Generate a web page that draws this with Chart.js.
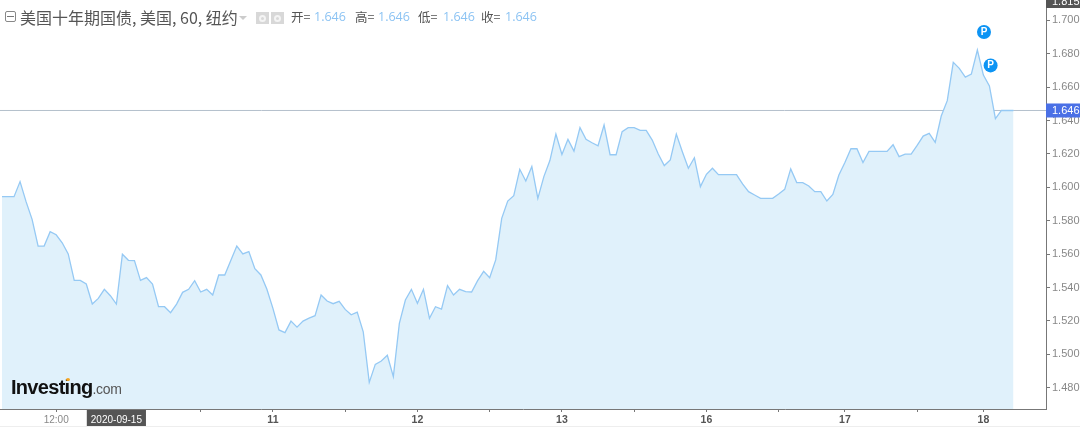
<!DOCTYPE html>
<html lang="zh">
<head>
<meta charset="utf-8">
<title>美国十年期国债</title>
<script src="https://cdn.jsdelivr.net/npm/chart.js@4/dist/chart.umd.min.js"></script>
<style>
  html, body { margin: 0; padding: 0; background: #fff; }
  body { width: 1080px; height: 427px; position: relative; overflow: hidden; font-family: "Liberation Sans", sans-serif; }
  canvas { position: absolute; left: 0; top: 0; }
  .hd { position: absolute; top: 8px; font: 14px/18px "Noto Sans CJK SC", sans-serif; color: #555; white-space: nowrap; }
  .hd.title { font-size: 16px; }
  .hd.ohlc { font-size: 12.5px; }
  .hd.num { font: 12.5px/18px "Open Sans", sans-serif; color: #8cc3f3; }
  .collapse { position: absolute; left: 5px; top: 11px; width: 9px; height: 9px; border: 1px solid #888; border-radius: 2px; }
  .collapse i { position: absolute; left: 1px; right: 1px; top: 4px; height: 1px; background: #777; }
  .caret { position: absolute; left: 239px; top: 16px; width: 0; height: 0; border: 4px solid transparent; border-top: 4px solid #ccc; }
  .icon { position: absolute; top: 12px; width: 13px; height: 12px; background: #d8d8d8; }
  .icon i { position: absolute; left: 3px; top: 2.5px; width: 3px; height: 3px; border: 2px solid #f4f4f4; border-radius: 50%; }
  .logo { position: absolute; left: 11px; top: 376px; color: #111; white-space: nowrap; }
  .logo b { font: bold 20px/22px "Liberation Sans", sans-serif; letter-spacing: -0.7px; }
  .logo span { font: 14px/22px "Liberation Sans", sans-serif; color: #555; letter-spacing: -0.3px; }
  .logo i { position: absolute; left: 55px; top: 2px; width: 4px; height: 3px; border-radius: 50%; background: #f5a623; }
  .rule { position: absolute; left: 0; right: 0; top: 426px; height: 1px; background: #eee; }
</style>
</head>
<body>
<canvas id="chart" width="1080" height="427"></canvas>
<div class="rule"></div>
<div class="collapse"><i></i></div>
<div class="hd title" style="left:20px">美国十年期国债, 美国, 60, 纽约</div>
<div class="caret"></div>
<div class="icon" style="left:256px"><i></i></div>
<div class="icon" style="left:271px"><i></i></div>
<div class="hd ohlc" style="left:291px">开=</div><div class="hd num" style="left:314px">1.646</div>
<div class="hd ohlc" style="left:355px">高=</div><div class="hd num" style="left:378px">1.646</div>
<div class="hd ohlc" style="left:418px">低=</div><div class="hd num" style="left:443px">1.646</div>
<div class="hd ohlc" style="left:481px">收=</div><div class="hd num" style="left:505px">1.646</div>
<div class="logo"><b>Investing</b><span>.com</span><i></i></div>
<script>
// hourly closes, one per bar
const yieldValues = [
  1.5944, 1.5944, 1.5944, 1.6034, 1.5914, 1.5808, 1.5648, 1.5648, 1.5734, 1.5716,
  1.5668, 1.5601, 1.5443, 1.5443, 1.5421, 1.5301, 1.5335, 1.5389, 1.5351, 1.5301,
  1.5599, 1.5563, 1.5561, 1.5443, 1.5459, 1.5421, 1.5285, 1.5285, 1.5249, 1.5301,
  1.5371, 1.5389, 1.5441, 1.5373, 1.5389, 1.5355, 1.5475, 1.5475, 1.5561, 1.5648,
  1.5601, 1.5615, 1.5513, 1.5475, 1.5389, 1.5275, 1.5146, 1.5130, 1.5199, 1.5163,
  1.5199, 1.5217, 1.5231, 1.5355, 1.5319, 1.5303, 1.5317, 1.5269, 1.5237, 1.5253,
  1.5135, 1.4832, 1.4940, 1.4960, 1.4994, 1.4866, 1.5185, 1.5325, 1.5389, 1.5305,
  1.5389, 1.5215, 1.5285, 1.5271, 1.5411, 1.5355, 1.5389, 1.5375, 1.5373, 1.5441,
  1.5497, 1.5459, 1.5565, 1.5814, 1.5918, 1.5950, 1.6108, 1.6038, 1.6124, 1.5934,
  1.6064, 1.6160, 1.6319, 1.6197, 1.6287, 1.6217, 1.6357, 1.6287, 1.6267, 1.6249,
  1.6373, 1.6195, 1.6195, 1.6333, 1.6357, 1.6357, 1.6341, 1.6341, 1.6283, 1.6199,
  1.6130, 1.6164, 1.6319, 1.6213, 1.6114, 1.6177, 1.6004, 1.6078, 1.6114, 1.6076,
  1.6076, 1.6076, 1.6076, 1.6020, 1.5974, 1.5954, 1.5934, 1.5934, 1.5934, 1.5960,
  1.5988, 1.6110, 1.6028, 1.6028, 1.6008, 1.5974, 1.5974, 1.5918, 1.5958, 1.6074,
  1.6148, 1.6231, 1.6231, 1.6148, 1.6215, 1.6215, 1.6215, 1.6215, 1.6255, 1.6184,
  1.6199, 1.6199, 1.6251, 1.6307, 1.6323, 1.6269, 1.6427, 1.6519, 1.6748, 1.6712,
  1.6660, 1.6678, 1.6822, 1.6672, 1.6607, 1.6411, 1.646, 1.646, 1.646
]
const barIndex = yieldValues.map((_, i) => i)

const timeTicks = [9, 19, 33, 45, 57, 69, 81, 93, 105, 117, 129, 140, 152, 163]
const timeLabels = ["12:00", "2020-09-15", "", "11", "", "12", "", "13", "", "16", "", "17", "", "18"]
const priceTicks = [1.48, 1.5, 1.52, 1.54, 1.56, 1.58, 1.6, 1.62, 1.64, 1.66, 1.68, 1.7]

const lastPrice = 1.646
const topPriceTag = 1.815
const markerBars = [163.1, 164.2]
const markerPrices = [1.693, 1.673]

const X_MIN = -0.33
const X_MAX = 173.4
const Y_MIN = 1.46725
const Y_MAX = 1.71216

function labelForTick(value) {
  const i = timeTicks.indexOf(value)
  return i < 0 ? "" : timeLabels[i]
}

function tickValue(c) {
  return c.tick ? c.tick.value : null
}

// text on the right axis that sits over the ticks (last price, clipped top price)
const axisTags = {
  id: "axisTags",
  afterDraw(chart) {
    const { ctx, scales, chartArea } = chart
    const x0 = chartArea.right
    const y = scales.y.getPixelForValue(lastPrice)
    ctx.save()
    ctx.fillStyle = "#4a70e6"
    ctx.fillRect(x0, y - 7, 34, 14)
    ctx.fillStyle = "#fff"
    ctx.font = "11px 'Liberation Sans', sans-serif"
    ctx.textBaseline = "middle"
    ctx.fillText(lastPrice.toFixed(3), x0 + 6, y + 0.5)
    ctx.fillStyle = "#555"
    ctx.fillRect(x0, 0, 34, 8)
    ctx.fillStyle = "#fff"
    ctx.fillText(topPriceTag.toFixed(3), x0 + 6, 2)
    ctx.restore()
  },
}

// white P on top of the blue markers
const markerLetters = {
  id: "markerLetters",
  afterDatasetsDraw(chart) {
    const { ctx, scales } = chart
    ctx.save()
    ctx.fillStyle = "#fff"
    ctx.font = "bold 10px 'Liberation Sans', sans-serif"
    ctx.textAlign = "center"
    ctx.textBaseline = "middle"
    markerBars.forEach((bar, i) => {
      ctx.fillText("P", scales.x.getPixelForValue(bar), scales.y.getPixelForValue(markerPrices[i]))
    })
    ctx.restore()
  },
}

new Chart(document.getElementById("chart"), {
  type: "line",
  data: {
    datasets: [
      {
        data: barIndex.map((x, i) => ({ x, y: yieldValues[i] })),
        borderColor: "#95c9f4",
        borderWidth: 1.3,
        backgroundColor: "#e0f1fb",
        fill: "start",
        pointRadius: 0,
        tension: 0,
      },
      {
        data: [{ x: X_MIN, y: lastPrice }, { x: X_MAX, y: lastPrice }],
        borderColor: "#b4c0cc",
        borderWidth: 1,
        pointRadius: 0,
        fill: false,
      },
      {
        data: markerBars.map((x, i) => ({ x, y: markerPrices[i] })),
        showLine: false,
        pointRadius: 7,
        pointBackgroundColor: "#0d94f4",
        pointBorderWidth: 0,
      },
    ],
  },
  options: {
    responsive: false,
    animation: false,
    devicePixelRatio: 1,
    layout: { padding: 0, autoPadding: false },
    plugins: { legend: { display: false }, tooltip: { enabled: false } },
    scales: {
      x: {
        type: "linear",
        min: X_MIN,
        max: X_MAX,
        afterBuildTicks(scale) {
          scale.ticks = timeTicks.map((value) => ({ value }))
        },
        afterFit(scale) {
          scale.height = 18
        },
        border: { color: "#777", width: 1 },
        grid: { drawOnChartArea: false, tickLength: 3, tickColor: "#777" },
        ticks: {
          autoSkip: false,
          maxRotation: 0,
          padding: 2,
          callback: (value) => labelForTick(value),
          color: (c) => (tickValue(c) === 19 ? "#fff" : tickValue(c) === 9 ? "#888" : "#555"),
          font: (c) => {
            const plain = tickValue(c) === 9 || tickValue(c) === 19
            return {
              family: "'Liberation Sans', sans-serif",
              size: plain ? 10 : 10.5,
              weight: plain ? "normal" : "bold",
            }
          },
          showLabelBackdrop: (c) => tickValue(c) === 19,
          backdropColor: "#555",
          backdropPadding: { left: 4, right: 4, top: 4, bottom: 5 },
        },
      },
      y: {
        position: "right",
        min: Y_MIN,
        max: Y_MAX,
        afterBuildTicks(scale) {
          scale.ticks = priceTicks.map((value) => ({ value }))
        },
        afterFit(scale) {
          scale.width = 34
          scale.paddingTop = 0
          scale.paddingBottom = 0
        },
        border: { color: "#777", width: 1 },
        grid: { drawOnChartArea: false, tickLength: 4, tickColor: "#777" },
        ticks: {
          padding: 2,
          color: "#888",
          font: { family: "'Liberation Sans', sans-serif", size: 11 },
          callback: (value) => value.toFixed(3),
        },
      },
    },
  },
  plugins: [markerLetters, axisTags],
})
</script>
</body>
</html>
